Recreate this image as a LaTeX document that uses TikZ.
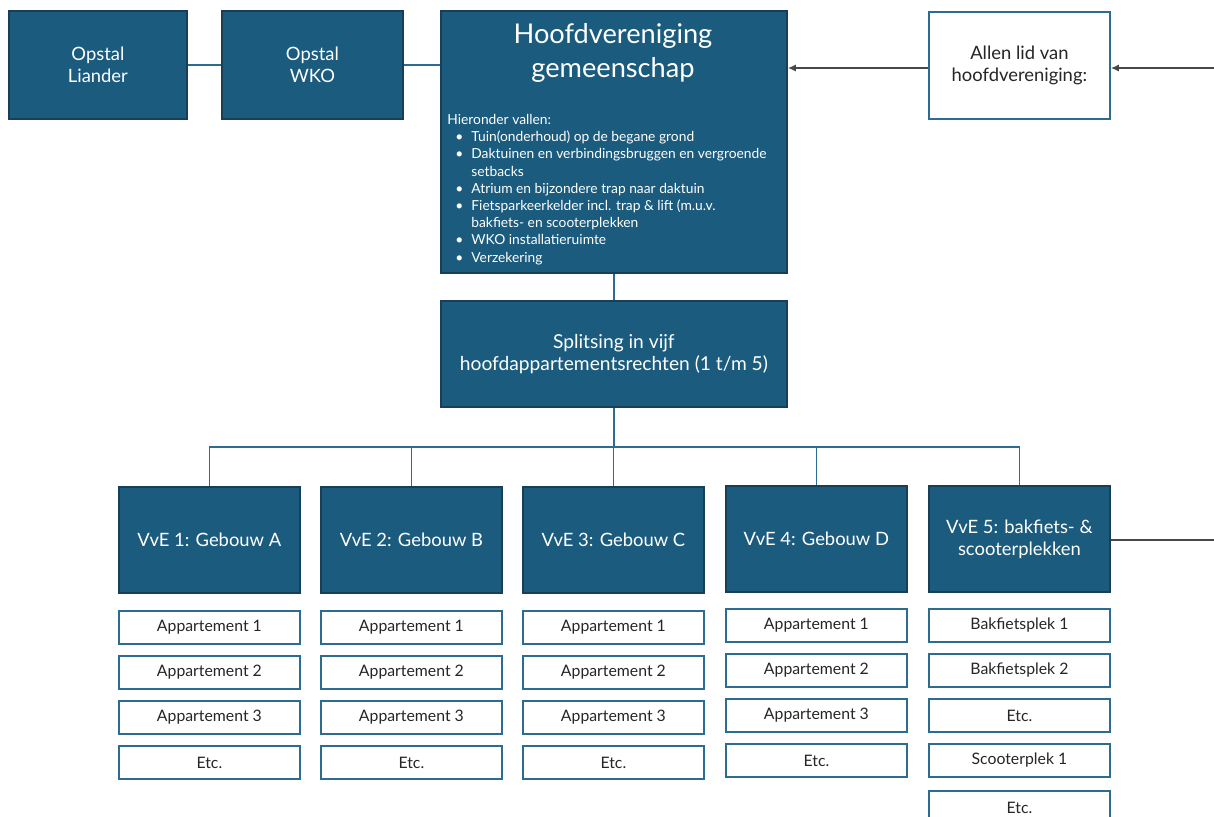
\documentclass[tikz,border=0pt]{standalone}
\usepackage{fontspec}
\setmainfont{Lato}
\usetikzlibrary{positioning,arrows.meta}
\definecolor{vvblauw}{HTML}{1B5B7E}
\definecolor{vvrand}{HTML}{173F57}
\definecolor{vvlijn}{HTML}{2C6C90}
\definecolor{vvgrijs}{HTML}{474747}
\newcommand{\opsom}{\makebox[12pt][l]{\hspace{4pt}\textbullet}}

\begin{document}
\begin{tikzpicture}[x=0.5pt, y=-0.5pt,
  blok/.style={draw=vvrand, fill=vvblauw, text=white, line width=0.9pt, inner sep=0pt, align=center, anchor=north west, minimum width=90.5pt, minimum height=53pt, font=\fontsize{9.2}{11}\selectfont},
  wit/.style={draw=vvlijn, fill=white, text=black!85, line width=0.9pt, inner sep=0pt, align=center, anchor=north west, minimum width=90.5pt, minimum height=16.5pt, font=\fontsize{7.9}{9}\selectfont},
  lijn/.style={draw=vvlijn, line width=0.8pt},
  pijl/.style={draw=vvgrijs, line width=0.7pt, -{Latex[length=4pt,width=3.5pt]}}]
  \useasboundingbox (0,0) rectangle (1214,816);

  % bovenste rij
  \node[blok, name=liander, minimum width=89pt, minimum height=54pt] at (8,10) {Opstal\\Liander};
  \node[blok, name=wko, minimum height=54pt] at (221,10) {Opstal\\WKO};
  \node[blok, name=hoofd, minimum width=173pt, minimum height=131pt] at (440,10) {};
  \node[name=titel, text=white, align=center, font=\fontsize{13.6}{17}\selectfont] at (613,53) {Hoofdvereniging\\gemeenschap};
  \node[name=lijst, text=white, align=left, anchor=north west, inner sep=0pt, font=\fontsize{6.9}{8.6}\selectfont] at (447,114)
    {Hieronder vallen:\\
     \opsom Tuin(onderhoud) op de begane grond\\
     \opsom Daktuinen en verbindingsbruggen en vergroende\\
     \hspace*{12pt}setbacks\\
     \opsom Atrium en bijzondere trap naar daktuin\\
     \opsom Fietsparkeerkelder incl. trap \& lift (m.u.v.\\
     \hspace*{12pt}bakfiets- en scooterplekken\\
     \opsom WKO installatieruimte\\
     \opsom Verzekering};
  \node[wit, name=allen, minimum height=53.5pt, font=\fontsize{9.2}{11}\selectfont] at (928,11) {Allen lid van\\hoofdvereniging:};
  \coordinate (rand1) at (1214,68);

  \draw[lijn] (liander.east) -- (wko.west);
  \draw[lijn] (wko.east) -- (wko.east -| hoofd.west);
  \draw[pijl] (allen.west |- rand1) -- (rand1 -| hoofd.east);
  \draw[pijl] (rand1) -- (rand1 -| allen.east);

  % splitsing
  \node[blok, name=splits, minimum width=173pt, font=\fontsize{9.6}{11}\selectfont] at (440,300) {Splitsing in vijf\\hoofdappartementsrechten (1 t/m 5)};
  \draw[lijn] (hoofd) -- (splits);

  % verenigingen van eigenaars
  \node[blok, name=vve1] at (118,486) {VvE 1: Gebouw A};
  \node[blok, name=vve2] at (320,486) {VvE 2: Gebouw B};
  \node[blok, name=vve3] at (522,486) {VvE 3: Gebouw C};
  \node[blok, name=vve4] at (725,485) {VvE 4: Gebouw D};
  \node[blok, name=vve5] at (928,485) {VvE 5: bakfiets- \&\\scooterplekken};
  \coordinate (bus) at (613,447);
  \coordinate (rand2) at (1214,540);

  \draw[lijn] (splits.south) -- (splits.south |- bus);
  \draw[lijn] (vve1.north) |- (bus) -| (vve5.north);
  \draw[lijn] (vve2.north) -- (vve2.north |- bus);
  \draw[lijn] (vve3.north) -- (vve3.north |- bus);
  \draw[lijn] (vve4.north) -- (vve4.north |- bus);
  \draw[draw=vvgrijs, line width=0.7pt] (vve5.east |- rand2) -- (rand2);

  % appartementen en plekken
  \foreach \k/\x in {1/118, 2/320, 3/522}{
    \node[wit, name=app\k a] at (\x,610) {Appartement 1};
    \node[wit, name=app\k b] at (\x,655) {Appartement 2};
    \node[wit, name=app\k c] at (\x,700) {Appartement 3};
    \node[wit, name=app\k d] at (\x,745) {Etc.};
  }
  \node[wit, name=app4a] at (725,608) {Appartement 1};
  \node[wit, name=app4b] at (725,653) {Appartement 2};
  \node[wit, name=app4c] at (725,698) {Appartement 3};
  \node[wit, name=app4d] at (725,743) {Etc.};

  \node[wit, name=plek1] at (928,608) {Bakfietsplek 1};
  \node[wit, name=plek2] at (928,653) {Bakfietsplek 2};
  \node[wit, name=plek3] at (928,698) {Etc.};
  \node[wit, name=plek4] at (928,743) {Scooterplek 1};
  \node[wit, name=plek5] at (928,790) {Etc.};
\end{tikzpicture}
\end{document}
